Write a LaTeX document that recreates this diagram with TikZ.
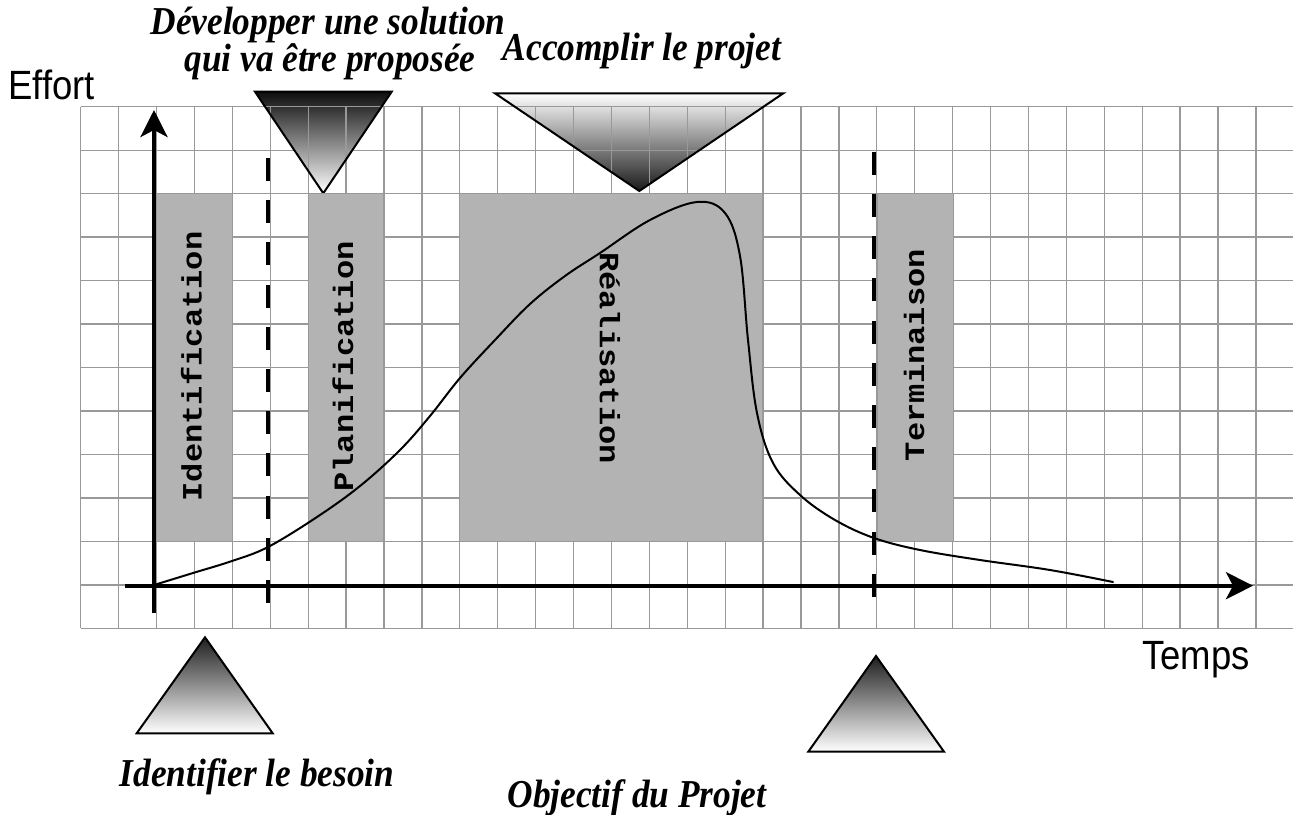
\documentclass[tikz,border=0pt]{standalone}
\usepackage{fontspec}
\usepackage{graphicx}
\setmainfont{Liberation Serif}
\newfontfamily\arialfont{Liberation Sans}
\newfontfamily\courfont{Liberation Mono}
\usetikzlibrary{arrows.meta}
\definecolor{gridgray}{HTML}{999999}
\definecolor{boxgray}{HTML}{B3B3B3}
% text is set a little taller than wide (horizontal labels) or longer than high (vertical labels)
\newcommand{\tallertext}[1]{\scalebox{1}[1.12]{#1}}
\newcommand{\longertext}[1]{\scalebox{1.147}[1]{#1}}
\begin{document}
\begin{tikzpicture}[x=1pt,y=-1pt,
  gridline/.style={draw=gridgray, line width=1.3pt},
  phasebox/.style={fill=boxgray, draw=gridgray, line width=1.3pt, inner sep=0pt},
  phaselabel/.style={font=\courfont\bfseries\fontsize{28}{28}\selectfont, inner sep=0pt},
  axisline/.style={line width=4pt, -{Stealth[length=27pt,width=27pt,inset=7pt]}},
  milestone/.style={line width=4.5pt, dash pattern=on 23pt off 19.2pt},
  caption/.style={font=\bfseries\itshape\fontsize{35.3}{36}\selectfont, inner sep=0pt, anchor=base},
  axislabel/.style={font=\arialfont\fontsize{36.5}{37}\selectfont, inner sep=0pt, anchor=base west},
  triedge/.style={draw=black, line width=2pt, line join=miter},
  effortcurve/.style={line width=2pt, line cap=round}
]
\useasboundingbox (0,0) rectangle (1293,814);

% triangle vertices
\coordinate (dA) at (255,91.7);  \coordinate (dB) at (391.7,91.7);  \coordinate (dC) at (323.3,193.3);
\coordinate (aA) at (495,93.3);  \coordinate (aB) at (783.3,93.3);  \coordinate (aC) at (639.3,191);
\coordinate (iA) at (205,637.3); \coordinate (iB) at (136.7,733.3); \coordinate (iC) at (272.7,733.3);
\coordinate (oA) at (876,656);   \coordinate (oB) at (808.3,751.7); \coordinate (oC) at (944,751.7);

% gradient fills of the triangles
\shade[top color=black!95, bottom color=white] (dA) -- (dB) -- (dC) -- cycle;
\shade[top color=white, bottom color=black!90] (aA) -- (aB) -- (aC) -- cycle;
\shade[top color=black!88, bottom color=white] (iA) -- (iB) -- (iC) -- cycle;
\shade[top color=black!88, bottom color=white] (oA) -- (oB) -- (oC) -- cycle;

% background grid
\foreach \k in {0,...,31}
  \draw[gridline] ({80.7+37.91*\k},106.7) -- ({80.7+37.91*\k},628.3);
\foreach \j in {0,...,12}
  \draw[gridline] (80.7,{106.7+43.47*\j}) -- (1293,{106.7+43.47*\j});

% triangle outlines
\draw[triedge] (dA) -- (dB) -- (dC) -- cycle;
\draw[triedge] (aA) -- (aB) -- (aC) -- cycle;
\draw[triedge] (iA) -- (iB) -- (iC) -- cycle;
\draw[triedge] (oA) -- (oB) -- (oC) -- cycle;

% project phases
\node[phasebox, minimum width=75.8pt, minimum height=347.8pt] (ident) at (194.5,367.5) {};
\node[phasebox, minimum width=75.8pt, minimum height=347.8pt] (plan)  at (346.1,367.5) {};
\node[phasebox, minimum width=303.3pt, minimum height=347.8pt] (real) at (611.4,367.5) {};
\node[phasebox, minimum width=75.8pt, minimum height=347.8pt] (term)  at (915.3,367.5) {};

\node[phaselabel, rotate=90]  (identtxt) at (191.5,366.5) {\longertext{Identification}};
\node[phaselabel, rotate=90]  (plantxt)  at (343,366.5) {\longertext{Planification}};
\node[phaselabel, rotate=-90] (realtxt)  at (610,358) {\longertext{Réalisation}};
\node[phaselabel, rotate=90]  (termtxt)  at (914,355) {\longertext{Terminaison}};

% milestones
\coordinate (m1top) at (268,158);   \coordinate (m1bot) at (268,603);
\coordinate (m2top) at (874,151.7); \coordinate (m2bot) at (874,597);
\draw[milestone] (m1top) -- (m1bot);
\draw[milestone] (m2top) -- (m2bot);

% axes
\coordinate (ybot) at (154,613);  \coordinate (ytip) at (154,110);
\coordinate (xleft) at (125,585.7); \coordinate (xtip) at (1253,585.7);
\draw[axisline] (ybot) -- (ytip);
\draw[axisline] (xleft) -- (xtip);

% effort curve
\draw[effortcurve] plot[smooth, tension=0.6] coordinates {
  (154,585) (193,573) (232,561) (268,547) (317,517) (360,486) (400,450)
  (430,416) (460,378) (495,340) (530,304) (565,276) (600,253) (650,220)
  (697,202) (725,213) (740,256) (748,340) (757,413) (773,463) (800,495)
  (835,520) (874,538) (920,550) (980,560) (1050,570) (1113,582)};

% axis labels
\node[axislabel] (effort) at (8,99) {\tallertext{Effort}};
\node[axislabel] (temps) at (1142,669) {\tallertext{Temps}};

% captions
\node[caption] (dev1) at (328,34) {\tallertext{Développer une solution}};
\node[caption] (dev2) at (330,71) {\tallertext{qui va être proposée}};
\node[caption] (acc) at (642,60) {\tallertext{Accomplir le projet}};
\node[caption] (idb) at (257,786) {\tallertext{Identifier le besoin}};
\node[caption] (obj) at (637,807) {\tallertext{Objectif du Projet}};
\end{tikzpicture}
\end{document}
